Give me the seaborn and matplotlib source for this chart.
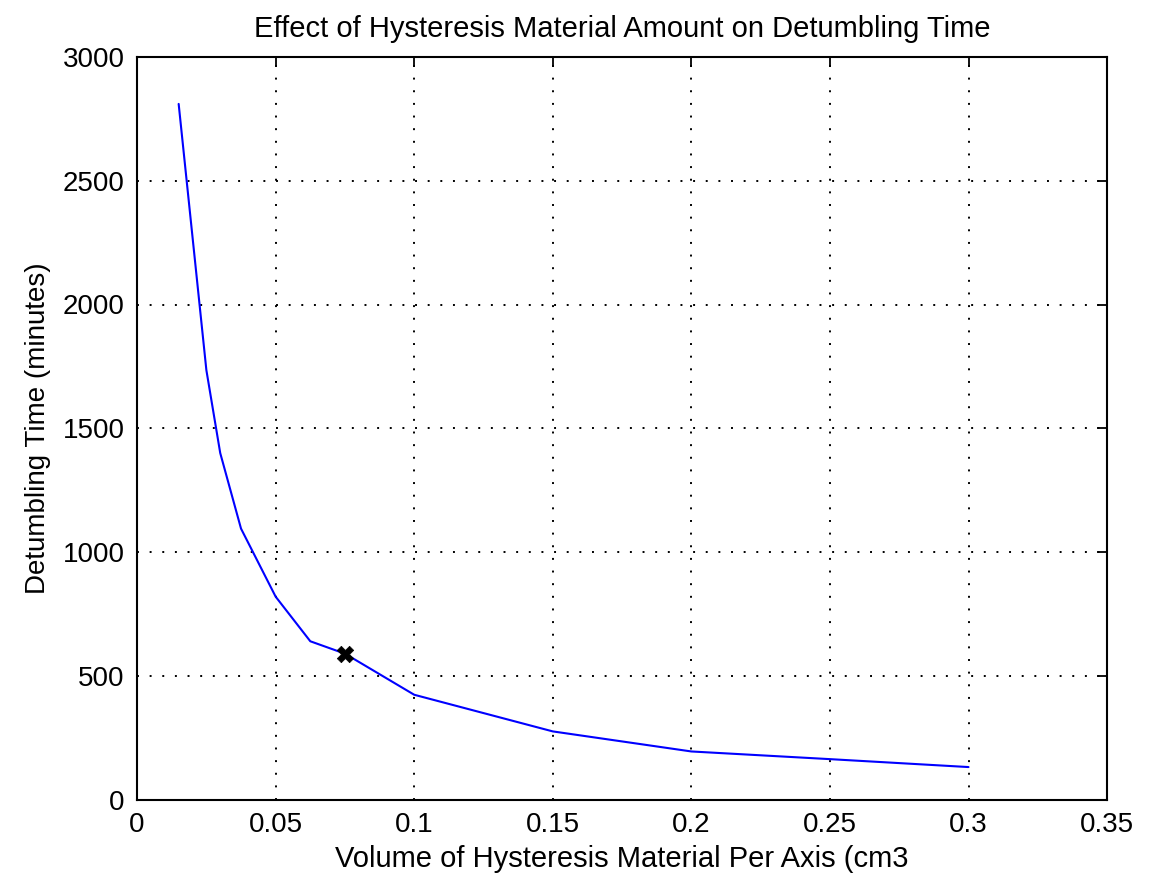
import numpy as np
import pandas as pd
import matplotlib
matplotlib.use('Agg')
import matplotlib.pyplot as plt
import seaborn as sns

# values
volume = [0.015, 0.025, 0.03, 0.0375, 0.05, 0.0625, 0.075, 0.1, 0.15, 0.2, 0.25, 0.3]
detumble_time = [2810, 1735, 1400, 1095, 820, 640, 590, 424, 276, 195, 164, 132]
chosen_volume = [0.075]
chosen_time = [588]

x_ticks = [0, 0.05, 0.1, 0.15, 0.2, 0.25, 0.3, 0.35]
x_tick_labels = ['0', '0.05', '0.1', '0.15', '0.2', '0.25', '0.3', '0.35']
y_ticks = [0, 500, 1000, 1500, 2000, 2500, 3000]

sns.set_style('white')
plt.rcParams['font.family'] = ['Liberation Sans', 'DejaVu Sans']
plt.rcParams['text.color'] = 'black'
plt.rcParams['axes.labelcolor'] = 'black'

df = pd.DataFrame({'volume': volume, 'time': detumble_time})
pick = pd.DataFrame({'volume': chosen_volume, 'time': chosen_time})

fig = plt.figure(figsize=(11.52, 8.75), dpi=100)
ax = fig.add_axes([0.119, 0.086, 0.842, 0.849])

sns.lineplot(data=df, x='volume', y='time', color='#0000ff', linewidth=1.5, ax=ax)
sns.scatterplot(data=pick, x='volume', y='time', marker='X', color='black', s=140,
                edgecolor='black', linewidth=0.5, ax=ax, zorder=5)

ax.set_xlim(0, 0.35)
ax.set_ylim(0, 3000)
ax.set_xticks(x_ticks)
ax.set_xticklabels(x_tick_labels)
ax.set_yticks(y_ticks)

ax.grid(True, color='black', linestyle=(0, (1, 5.5)), linewidth=1.4)
for side in ['top', 'right', 'left', 'bottom']:
    ax.spines[side].set_visible(True)
    ax.spines[side].set_color('black')
    ax.spines[side].set_linewidth(1.5)
ax.tick_params(direction='in', length=7, width=1.3, top=True, right=True,
               labelsize=20, colors='black', pad=9)

ax.set_title('Effect of Hysteresis Material Amount on Detumbling Time', fontsize=21, pad=14)
ax.set_xlabel('Volume of Hysteresis Material Per Axis (cm3', fontsize=21, labelpad=5)
ax.set_ylabel('Detumbling Time (minutes)', fontsize=20, labelpad=8)

fig.savefig('out.png', dpi=100, facecolor='white')
